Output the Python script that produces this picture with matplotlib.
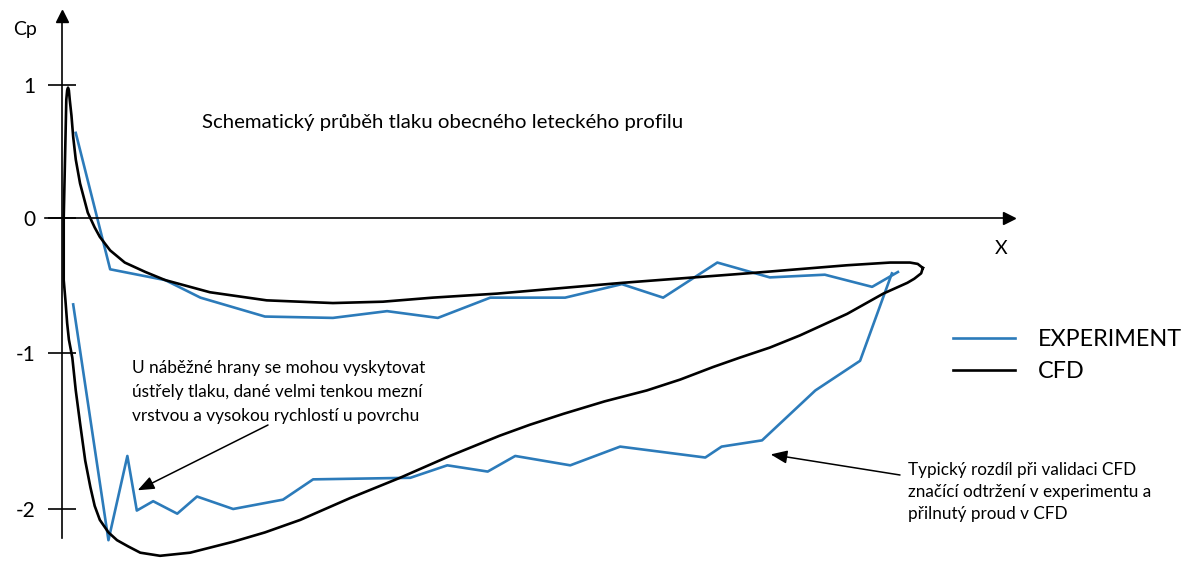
import numpy as np
import matplotlib.pyplot as plt

plt.rcParams['font.family'] = ['Lato', 'DejaVu Sans']

# experiment, upper and lower surface (x/c, Cp)
exp_up_x = [0.016, 0.056, 0.120, 0.161, 0.236, 0.315, 0.378, 0.437, 0.498, 0.585,
            0.651, 0.699, 0.762, 0.823, 0.887, 0.942, 0.972]
exp_up_cp = [0.64, -0.38, -0.46, -0.59, -0.73, -0.74, -0.69, -0.74, -0.59, -0.59,
             -0.49, -0.59, -0.33, -0.44, -0.42, -0.51, -0.40]
exp_lo_x = [0.013, 0.054, 0.076, 0.087, 0.106, 0.134, 0.157, 0.199, 0.257, 0.292,
            0.405, 0.448, 0.495, 0.527, 0.591, 0.649, 0.748, 0.767, 0.814, 0.876,
            0.928, 0.965]
exp_lo_cp = [-0.64, -2.20, -1.66, -2.01, -1.95, -2.03, -1.92, -2.00, -1.94, -1.81,
             -1.80, -1.72, -1.76, -1.66, -1.72, -1.60, -1.67, -1.60, -1.56, -1.24,
             -1.05, -0.41]

# CFD, closed loop: trailing edge -> lower surface -> leading edge -> upper surface
cfd_x = [1.001, 0.999, 0.991, 0.983, 0.955, 0.913, 0.858, 0.823, 0.788, 0.757,
         0.719, 0.680, 0.631, 0.583, 0.544, 0.509, 0.451, 0.393, 0.335, 0.277,
         0.236, 0.199, 0.149, 0.114, 0.091, 0.077, 0.064, 0.054, 0.044, 0.038,
         0.033, 0.027, 0.021, 0.016, 0.012, 0.008, 0.006, 0.004, 0.002, 0.002,
         0.004, 0.005, 0.006, 0.007,
         0.008, 0.009, 0.011, 0.013, 0.016, 0.021, 0.030, 0.038, 0.044, 0.056,
         0.073, 0.097, 0.120, 0.172, 0.238, 0.315, 0.373, 0.431, 0.506, 0.579,
         0.652, 0.797, 0.913, 0.963, 0.986, 0.995, 1.001]
cfd_cp = [-0.37, -0.41, -0.45, -0.48, -0.56, -0.71, -0.87, -0.96, -1.03, -1.09,
          -1.17, -1.24, -1.31, -1.39, -1.46, -1.53, -1.66, -1.80, -1.93, -2.07,
          -2.15, -2.21, -2.28, -2.30, -2.28, -2.24, -2.20, -2.15, -2.07, -1.98,
          -1.86, -1.69, -1.45, -1.24, -1.03, -0.90, -0.78, -0.61, -0.46, 0.00,
          0.59, 0.89, 0.96, 0.98,
          0.96, 0.89, 0.77, 0.61, 0.44, 0.26, 0.04, -0.07, -0.14, -0.24,
          -0.33, -0.40, -0.46, -0.55, -0.61, -0.63, -0.62, -0.59, -0.56, -0.52,
          -0.48, -0.41, -0.35, -0.33, -0.33, -0.34, -0.37]

yticks = [1, 0, -1, -2]
ytick_labels = ['1', '0', '-1', '-2']

# schematic axis: unit spacing is not uniform in the sketch
knots_cp = [-4, -2, -1, 0, 1, 3]
knots_px = [-821, -509, -353, -218, -85, 181]


def fwd(v):
    return np.interp(v, knots_cp, knots_px)


def inv(v):
    return np.interp(v, knots_px, knots_cp)


W, H = 1194, 561


def fig_xy(px, py):
    return px / W, 1 - py / H


blue = '#2c7bba'
fig = plt.figure(figsize=(W / 100, H / 100), dpi=100)
ax = fig.add_axes([0, 0, 1, 1])
ax.set_yscale('function', functions=(fwd, inv))
ax.set_xlim(-62 / 860, (W - 62) / 860)
ax.set_ylim(inv(-H), inv(0))

ax.plot(exp_up_x, exp_up_cp, color=blue, lw=1.9, label='EXPERIMENT')
ax.plot(exp_lo_x, exp_lo_cp, color=blue, lw=1.9)
ax.plot(cfd_x, cfd_cp, color='black', lw=1.9, label='CFD')

# axes through origin, with arrows
for s in ['top', 'right']:
    ax.spines[s].set_visible(False)
ax.spines['left'].set_position(('data', 0))
ax.spines['bottom'].set_position(('data', 0))
ax.spines['left'].set_bounds(inv(-538), inv(-20))
ax.spines['bottom'].set_bounds(-17 / 860, 1.100)
ax.spines['left'].set_linewidth(1.2)
ax.spines['bottom'].set_linewidth(1.2)
ax.plot(0, inv(-16), marker='^', color='black', ms=9, clip_on=False)
ax.plot(1.101, 0, marker='>', color='black', ms=9, clip_on=False)

ax.set_xticks([])
ax.set_yticks(yticks)
ax.set_yticklabels(ytick_labels)
ax.tick_params(axis='y', direction='inout', length=20, width=1.2, pad=9.4, labelsize=15)

ax.text(*fig_xy(25, 29), 'Cp', transform=fig.transFigure, fontsize=14, ha='center', va='center')
ax.text(*fig_xy(1001, 249), 'X', transform=fig.transFigure, fontsize=14, ha='center', va='center')

ax.text(*fig_xy(443, 122), 'Schematický průběh tlaku obecného leteckého profilu',
        transform=fig.transFigure, fontsize=14.7, ha='center', va='center')

ax.text(*fig_xy(132, 392), 'U náběžné hrany se mohou vyskytovat\n'
        'ústřely tlaku, dané velmi tenkou mezní\nvrstvou a vysokou rychlostí u povrchu',
        transform=fig.transFigure, fontsize=12.4, ha='left', va='center', linespacing=1.58)
ax.annotate('', xy=(0.088, -1.88), xycoords='data', xytext=fig_xy(268, 425),
            textcoords='figure fraction',
            arrowprops=dict(arrowstyle='-|>,head_length=1.0,head_width=0.4',
                            mutation_scale=10, color='black', lw=1.1, shrinkA=0, shrinkB=0))

ax.text(*fig_xy(908, 492), 'Typický rozdíl při validaci CFD\n'
        'značící odtržení v experimentu a\npřilnutý proud v CFD',
        transform=fig.transFigure, fontsize=12.3, ha='left', va='center', linespacing=1.5)
ax.annotate('', xy=(0.824, -1.65), xycoords='data', xytext=fig_xy(900, 475),
            textcoords='figure fraction',
            arrowprops=dict(arrowstyle='-|>,head_length=1.0,head_width=0.4',
                            mutation_scale=10, color='black', lw=1.1, shrinkA=0, shrinkB=0))

ax.legend(loc='center left', bbox_to_anchor=fig_xy(953, 355.5), bbox_transform=fig.transFigure,
          frameon=False, fontsize=16.8, handlelength=2.66, handletextpad=0.99,
          labelspacing=0.5, borderpad=0, borderaxespad=0)

fig.savefig('out.png', dpi=100)
